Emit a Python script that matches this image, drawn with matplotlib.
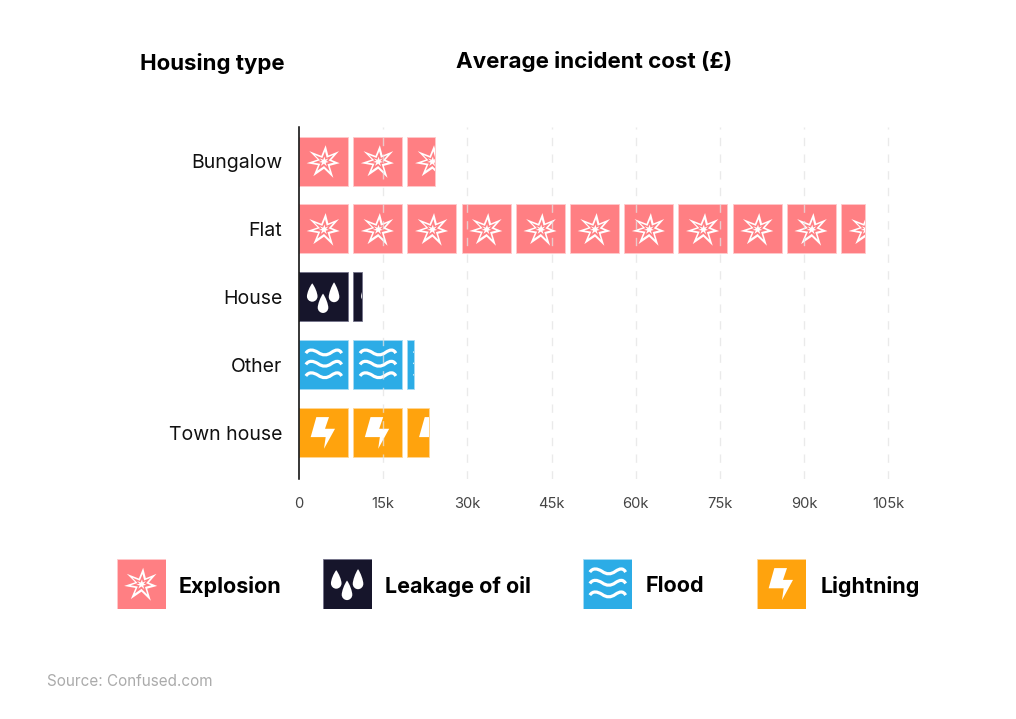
import numpy as np
import matplotlib
matplotlib.use("Agg")
import matplotlib.pyplot as plt
from matplotlib.patches import Polygon, PathPatch, Rectangle
from matplotlib.path import Path
from matplotlib.transforms import Affine2D

housing = ["Bungalow", "Flat", "House", "Other", "Town house"]
cost = [24300, 100800, 11300, 20400, 23100]
peril = ["Explosion", "Explosion", "Leakage of oil", "Flood", "Lightning"]
legend_names = ["Explosion", "Leakage of oil", "Flood", "Lightning"]
colours = {"Explosion": "#FF7F83", "Leakage of oil": "#16152B", "Flood": "#2CACE6", "Lightning": "#FFA30D"}
edges = {"Explosion": "#FFC9CB", "Leakage of oil": "#73728A", "Flood": "#A5DCF5", "Lightning": "#FFD796"}
xticks = [0, 15000, 30000, 45000, 60000, 75000, 90000, 105000]
xticklabels = ["0", "15k", "30k", "45k", "60k", "75k", "90k", "105k"]

W, H = 1016, 719
FONT = "Inter"
plt.rcParams["font.family"] = [FONT, "DejaVu Sans"]
fig = plt.figure(figsize=(W / 100, H / 100), dpi=100, facecolor="white")

def px_axes(l, t, r, b):
    return fig.add_axes([l / W, 1 - b / H, (r - l) / W, (b - t) / H])

PX_PER_UNIT = 589.5 / 105000
x_right = 892
ax = px_axes(299, 127, x_right, 479)
ax.set_xlim(0, (x_right - 299) / PX_PER_UNIT)
ROW = 67.9
ax.set_ylim((479 - 161) / ROW, (127 - 161) / ROW)

STAR = np.array([(110, 46), (118, 77), (150, 64), (127, 90), (152, 100), (122, 108), (133, 144),
                 (105, 117), (73, 139), (87, 106), (53, 100), (86, 89), (61, 64), (97, 78)], float)
STAR_U = np.c_[(STAR[:, 0] - 30) / 147, (167 - STAR[:, 1]) / 147]
STAR_C = np.array([0.51, 0.49])
BOLT = [(82, 455), (120, 455), (108, 490), (138, 490), (105, 550), (110, 515), (65, 515)]
BOLT_U = [((x - 30) / 147, (575 - y) / 147) for x, y in BOLT]

def drop_at(cx, top, bot, hw):
    # bottom-up unit coordinates: top > bottom
    r = bot + hw
    verts = [(cx, top), (cx - hw * .5, top - (top - r) * .25), (cx - hw, r + hw * .65), (cx - hw, r),
             (cx - hw, r - hw * .55), (cx - hw * .55, bot), (cx, bot),
             (cx + hw * .55, bot), (cx + hw, r - hw * .55), (cx + hw, r),
             (cx + hw, r + hw * .65), (cx + hw * .5, top - (top - r) * .25), (cx, top), (cx, top)]
    return Path(verts, [Path.MOVETO] + [Path.CURVE4] * 12 + [Path.CLOSEPOLY])

def wave(y0):
    v = [(0.14, y0 - .01), (0.20, y0 + .08), (0.29, y0 + .065), (0.39, y0 + .005),
         (0.48, y0 - .06), (0.57, y0 - .06), (0.66, y0 + .005),
         (0.75, y0 + .065), (0.82, y0 + .08), (0.87, y0 - .01)]
    return Path(v, [Path.MOVETO] + [Path.CURVE4] * 9)

def glyphs(kind):
    """Icon shapes in tile units (0..1, y up)."""
    if kind == "Explosion":
        s = [(STAR_U, "w"), (STAR_C + (STAR_U - STAR_C) * .62, "c"), (STAR_C + (STAR_U - STAR_C) * .3, "w")]
        return [("poly", a, b) for a, b in s]
    if kind == "Leakage of oil":
        return [("path", drop_at(0.27, 0.775, 0.40, 0.108), "w"),
                ("path", drop_at(0.715, 0.795, 0.39, 0.108), "w"),
                ("path", drop_at(0.49, 0.565, 0.17, 0.108), "w")]
    if kind == "Flood":
        return [("line", wave(y), "w") for y in (0.745, 0.515, 0.28)]
    return [("poly", np.array(BOLT_U), "w")]

def draw_tile(a, x0, y0, w, h, kind, clip=None, zorder=2):
    """Tile with lower-left (x0, y0) in the data space of a; h may be negative for inverted axes."""
    tr = Affine2D().scale(w, h).translate(x0, y0) + a.transData
    for typ, shape, col in glyphs(kind):
        c = "white" if col == "w" else colours[kind]
        if typ == "poly":
            p = Polygon(shape, closed=True, facecolor=c, edgecolor="none", transform=tr, zorder=zorder)
        elif typ == "path":
            p = PathPatch(shape, facecolor=c, edgecolor="none", transform=tr, zorder=zorder)
        else:
            p = PathPatch(shape, facecolor="none", edgecolor=c, lw=2.3, capstyle="butt", transform=tr, zorder=zorder)
        a.add_patch(p)
        if clip is not None:
            p.set_clip_path(clip)

TILE = 49 / PX_PER_UNIT
PERIOD = 54.2 / PX_PER_UNIT
BAR_H = 49 / ROW
for i, (val, kind) in enumerate(zip(cost, peril)):
    clip = Rectangle((0, i - BAR_H / 2 - .02), val, BAR_H + .04, transform=ax.transData)
    left = 0.0
    while left < val:
        w = min(TILE, val - left)
        ax.barh(i, w, left=left, height=BAR_H, color=colours[kind], edgecolor=edges[kind], linewidth=0.6, zorder=1.5)
        draw_tile(ax, left, i + BAR_H / 2, TILE, -BAR_H, kind, clip=clip)
        left += PERIOD

ax.set_yticks(range(len(housing)))
ax.set_yticklabels(housing, fontsize=14, color="#111111")
ax.tick_params(axis="y", length=0, pad=12)
ax.set_xticks(xticks)
ax.set_xticklabels(xticklabels, fontsize=10.6, color="#444444")
ax.tick_params(axis="x", length=0, pad=13)
ax.grid(axis="x", color="#E4E4E4", lw=1, linestyle=(0, (6, 6)), alpha=.75, zorder=3)
ax.xaxis.get_gridlines()[0].set_visible(False)
ax.set_axisbelow(False)
for s in ("top", "right", "bottom"):
    ax.spines[s].set_visible(False)
ax.spines["left"].set_linewidth(1.1)
ax.spines["left"].set_color("black")
ax.spines["left"].set_zorder(6)

def txt(x, y, s, **k):
    fig.text(x / W, 1 - y / H, s, va="center", **k)

txt(285, 63, "Housing type", ha="right", fontsize=16, fontweight="bold", color="black")
txt(456, 61, "Average incident cost (£)", ha="left", fontsize=16.1, fontweight="bold", color="black")
txt(47, 681, "Source: Confused.com", ha="left", fontsize=11, color="#ABABAB")

swatch_x = [116.5, 323, 583, 757]
label_x = [179, 385, 646, 821]
for name, sx, lx in zip(legend_names, swatch_x, label_x):
    la = px_axes(sx, 559, sx + 49, 608.5)
    la.set_xlim(0, 1)
    la.set_ylim(0, 1)
    la.axis("off")
    la.add_patch(Rectangle((0, 0), 1, 1, facecolor=colours[name], edgecolor=edges[name], lw=0.6, zorder=1))
    draw_tile(la, 0, 0, 1, 1, name)
    txt(lx, 586.5, name, ha="left", fontsize=15.5, fontweight="bold", color="black")

fig.savefig("out.png", dpi=100)
